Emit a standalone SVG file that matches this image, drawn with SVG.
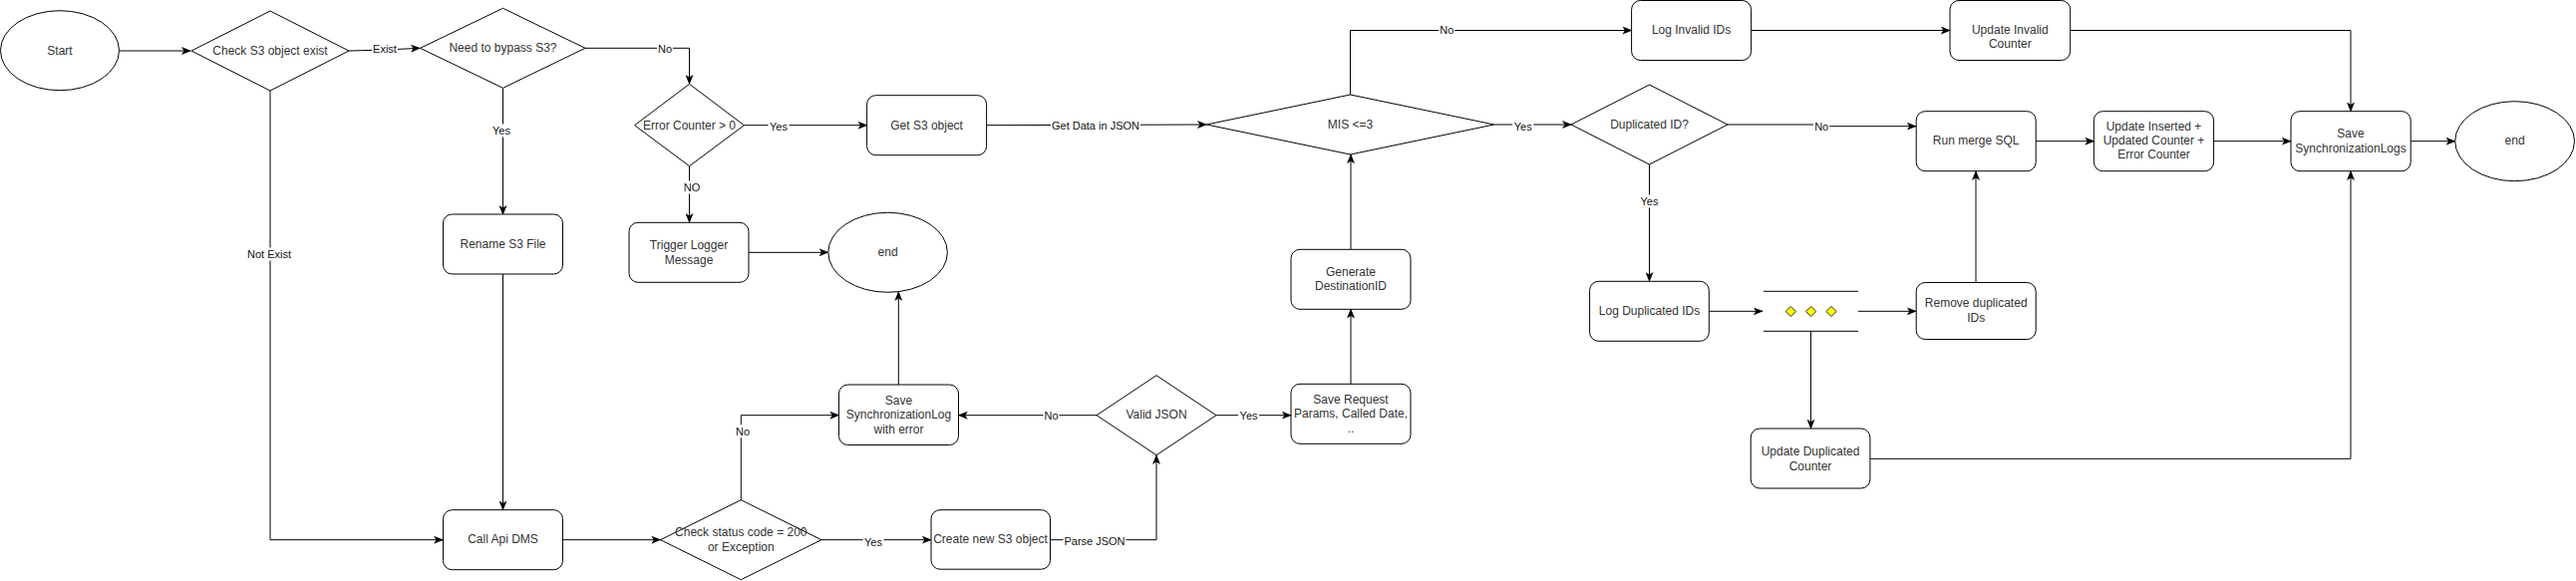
<svg xmlns="http://www.w3.org/2000/svg" width="2584" height="583" viewBox="0 0 2584 583">
<defs>
<marker id="arr" markerWidth="10" markerHeight="8" refX="9" refY="4" orient="auto" markerUnits="userSpaceOnUse">
<path d="M0,0 L10,4 L0,8 L2.5,4 z" fill="#000"/>
</marker>
<style>
.n{fill:#fff;stroke:#000;stroke-width:1}
.t{font-family:"Liberation Sans",Arial,sans-serif;font-size:12px;fill:#333;text-anchor:middle;dominant-baseline:central}
.e{fill:none;stroke:#000;stroke-width:1;marker-end:url(#arr)}
.p{fill:none;stroke:#000;stroke-width:1}
.l{font-family:"Liberation Sans",Arial,sans-serif;font-size:11px;fill:#111;text-anchor:middle;dominant-baseline:central}
.b{fill:#fff;stroke:none}
.y{fill:#ffff00;stroke:#333;stroke-width:1}
</style>
</defs>
<rect width="2584" height="583" fill="#fff"/>

<g id="connectors">
<path class="e" d="M120,51 L191,51"/>
<path class="e" d="M350,51 L386,50 L421,48.3"/>
<path class="e" d="M587,48.3 L691.5,48.3 L691.5,84"/>
<path class="e" d="M504.5,88.3 L504.5,215"/>
<path class="e" d="M271,91 L271,541.7 L444,541.7"/>
<path class="e" d="M504.5,275 L504.5,511.5"/>
<path class="e" d="M746.4,125.7 L869.5,125.7"/>
<path class="e" d="M691.5,166.7 L691.5,223"/>
<path class="e" d="M751,253.3 L830.5,253.3"/>
<path class="e" d="M989.6,125.7 L1210,125"/>
<path class="e" d="M564,541.7 L662.3,541.7"/>
<path class="e" d="M824,541.7 L933.8,541.7"/>
<path class="e" d="M1054,541.7 L1160,541.7 L1160,457"/>
<path class="e" d="M1100,416.7 L961.8,416.7"/>
<path class="e" d="M743.3,501.7 L743.3,416.7 L841.3,416.7"/>
<path class="e" d="M901.3,386 L901.3,293"/>
<path class="e" d="M1220,416.7 L1294.8,416.7"/>
<path class="e" d="M1355,385.3 L1355,310.5"/>
<path class="e" d="M1355,250 L1355,155.2"/>
<path class="e" d="M1354.5,95 L1354.5,30.5 L1636.4,30.5"/>
<path class="e" d="M1756.6,30.5 L1955.8,30.5"/>
<path class="e" d="M2077,30.5 L2358,30.5 L2358,111.5"/>
<path class="e" d="M1498.7,125 L1576,125"/>
<path class="e" d="M1733,125 L1827,125 L1827,126.7 L1921.8,126.7"/>
<path class="e" d="M1654.5,165 L1654.5,282.1"/>
<path class="e" d="M1714.6,312.3 L1767.8,312.3"/>
<path class="e" d="M1864,312.3 L1921.8,312.3"/>
<path class="e" d="M1816.5,332.3 L1816.5,429.8"/>
<path class="e" d="M1982,283.5 L1982,171.9"/>
<path class="e" d="M2042,141.7 L2100.3,141.7"/>
<path class="e" d="M2220.5,141.7 L2297.8,141.7"/>
<path class="e" d="M2418,141.7 L2462.5,141.7"/>
<path class="e" d="M1876,460.3 L2358,460.3 L2358,171.9"/>
<rect class="b" x="373" y="42.5" width="26" height="13"/><text class="l" x="386" y="49">Exist</text>
<rect class="b" x="659" y="42.5" width="16" height="13"/><text class="l" x="667" y="49">No</text>
<rect class="b" x="492.5" y="124.5" width="21" height="13"/><text class="l" x="503" y="131">Yes</text>
<rect class="b" x="247" y="248.5" width="46" height="13"/><text class="l" x="270" y="255">Not Exist</text>
<rect class="b" x="770.5" y="120.5" width="21" height="13"/><text class="l" x="781" y="127">Yes</text>
<rect class="b" x="685" y="181.5" width="18" height="13"/><text class="l" x="694" y="188">NO</text>
<rect class="b" x="1054" y="119" width="90" height="13"/><text class="l" x="1099" y="125.5">Get Data in JSON</text>
<rect class="b" x="865.5" y="537.5" width="21" height="13"/><text class="l" x="876" y="544">Yes</text>
<rect class="b" x="1066.5" y="536" width="63" height="13"/><text class="l" x="1098" y="542.5">Parse JSON</text>
<rect class="b" x="1046.5" y="410.5" width="16" height="13"/><text class="l" x="1054.5" y="417">No</text>
<rect class="b" x="737" y="426.2" width="16" height="13"/><text class="l" x="745" y="432.7">No</text>
<rect class="b" x="1242.1" y="410.5" width="21" height="13"/><text class="l" x="1252.6" y="417">Yes</text>
<rect class="b" x="1443.3" y="23" width="16" height="13"/><text class="l" x="1451.3" y="29.5">No</text>
<rect class="b" x="1517.2" y="120.2" width="21" height="13"/><text class="l" x="1527.7" y="126.7">Yes</text>
<rect class="b" x="1819.2" y="120" width="16" height="13"/><text class="l" x="1827.2" y="126.5">No</text>
<rect class="b" x="1644" y="195.5" width="21" height="13"/><text class="l" x="1654.5" y="202">Yes</text>
</g>

<g id="start"><ellipse class="n" cx="60" cy="50.7" rx="59.5" ry="40"/><text class="t" x="60" y="50.7">Start</text></g>
<g id="check-s3"><polygon class="n" points="271,11 350,51 271,91 192,51"/><text class="t" x="271" y="50.7">Check S3 object exist</text></g>
<g id="bypass"><polygon class="n" points="504.5,8.3 587,48.3 504.5,88.3 421.5,48.3"/><text class="t" x="504.5" y="47.7">Need to bypass S3?</text></g>
<g id="rename"><rect class="n" x="444.5" y="215" width="120" height="60" rx="9"/><text class="t" x="504.5" y="245">Rename S3 File</text></g>
<g id="call-api"><rect class="n" x="444.5" y="511.7" width="120" height="60" rx="9"/><text class="t" x="504.5" y="541.3">Call Api DMS</text></g>
<g id="error-counter"><polygon class="n" points="691.5,84.3 746.4,125.7 691.5,166.7 636.6,125.7"/><text class="t" x="691.5" y="125.7">Error Counter &gt; 0</text></g>
<g id="get-s3"><rect class="n" x="869.6" y="95.7" width="120" height="60" rx="9"/><text class="t" x="929.6" y="125.7">Get S3 object</text></g>
<g id="trigger"><rect class="n" x="631" y="223.3" width="120" height="60" rx="9"/><text class="t" x="691" y="246">Trigger Logger</text><text class="t" x="691" y="260.7">Message</text></g>
<g id="end1"><ellipse class="n" cx="890.6" cy="253.3" rx="59.8" ry="40"/><text class="t" x="890.6" y="252.7">end</text></g>
<g id="check-status"><polygon class="n" points="743.3,501.7 824,541.7 743.3,581.7 662.5,541.7"/><text class="t" x="743.3" y="534">Check status code = 200</text><text class="t" x="743.3" y="548.7">or Exception</text></g>
<g id="create-s3"><rect class="n" x="934" y="511.7" width="119.5" height="59.5" rx="9"/><text class="t" x="993.5" y="541.3">Create new S3 object</text></g>
<g id="valid-json"><polygon class="n" points="1160,376.7 1220,416.7 1160,456.7 1100,416.7"/><text class="t" x="1160" y="416">Valid JSON</text></g>
<g id="save-sync-error"><rect class="n" x="841.5" y="386" width="120" height="60.5" rx="9"/><text class="t" x="901.5" y="401.7">Save</text><text class="t" x="901.5" y="416">SynchronizationLog</text><text class="t" x="901.5" y="431">with error</text></g>
<g id="save-request"><rect class="n" x="1295" y="385.3" width="120" height="60" rx="9"/><text class="t" x="1355" y="400.7">Save Request</text><text class="t" x="1355" y="414.7">Params, Called Date,</text><text class="t" x="1355" y="429.5">..</text></g>
<g id="generate"><rect class="n" x="1295" y="250.3" width="120" height="60" rx="9"/><text class="t" x="1355" y="272.7">Generate</text><text class="t" x="1355" y="287.3">DestinationID</text></g>
<g id="mis"><polygon class="n" points="1354.5,95 1498.7,125 1354.5,155 1210.3,125"/><text class="t" x="1354.5" y="125">MIS &lt;=3</text></g>
<g id="log-invalid"><rect class="n" x="1636.6" y="0.5" width="120" height="60" rx="9"/><text class="t" x="1696.6" y="30">Log Invalid IDs</text></g>
<g id="update-invalid"><rect class="n" x="1956" y="0.5" width="120.7" height="60" rx="9"/><text class="t" x="2016.3" y="30">Update Invalid</text><text class="t" x="2016.3" y="44.3">Counter</text></g>
<g id="duplicated"><polygon class="n" points="1654.5,85 1733,125 1654.5,165 1576,125"/><text class="t" x="1654.5" y="125">Duplicated ID?</text></g>
<g id="run-merge"><rect class="n" x="1922.2" y="111.7" width="120" height="60" rx="9"/><text class="t" x="1982.2" y="141">Run merge SQL</text></g>
<g id="update-inserted"><rect class="n" x="2100.4" y="111.7" width="120.2" height="60" rx="9"/><text class="t" x="2160.5" y="126.7">Update Inserted +</text><text class="t" x="2160.5" y="141">Updated Counter +</text><text class="t" x="2160.5" y="155.3">Error Counter</text></g>
<g id="save-logs"><rect class="n" x="2298" y="111.7" width="120.2" height="60" rx="9"/><text class="t" x="2358" y="133.7">Save</text><text class="t" x="2358" y="148.7">SynchronizationLogs</text></g>
<g id="end2"><ellipse class="n" cx="2522.6" cy="141.7" rx="59.9" ry="40"/><text class="t" x="2522.6" y="141">end</text></g>
<g id="log-dup"><rect class="n" x="1594.6" y="282.3" width="119.7" height="60" rx="9"/><text class="t" x="1654.5" y="312">Log Duplicated IDs</text></g>
<g id="loop">
<line class="p" x1="1769" y1="292.3" x2="1864" y2="292.3"/>
<line class="p" x1="1769" y1="332.3" x2="1864" y2="332.3"/>
<polygon class="y" points="1796.3,307.5 1801.5,312.5 1796.3,317.5 1791.1,312.5"/>
<polygon class="y" points="1816.7,307.5 1821.9,312.5 1816.7,317.5 1811.5,312.5"/>
<polygon class="y" points="1837,307.5 1842.2,312.5 1837,317.5 1831.8,312.5"/>
</g>
<g id="remove-dup"><rect class="n" x="1922.2" y="283.5" width="120" height="57" rx="9"/><text class="t" x="1982.2" y="304.3">Remove duplicated</text><text class="t" x="1982.2" y="319.3">IDs</text></g>
<g id="update-dup"><rect class="n" x="1756.2" y="430" width="119.7" height="60" rx="9"/><text class="t" x="1816" y="452.7">Update Duplicated</text><text class="t" x="1816" y="467.7">Counter</text></g>
</svg>
